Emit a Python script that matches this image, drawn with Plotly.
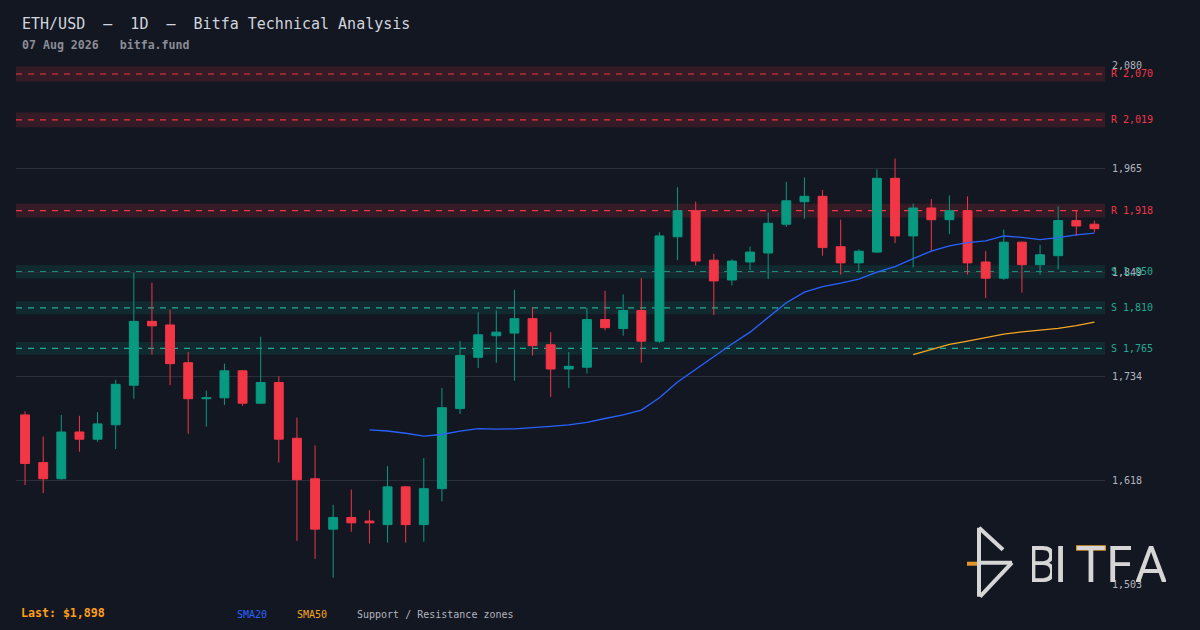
import plotly.graph_objects as go
import pandas as pd

# ETH/USD daily candles, oldest first, last bar on 07 Aug 2026
opens = [1691, 1638, 1620, 1672, 1664, 1680, 1724, 1795, 1791, 1749,
         1709, 1710, 1740, 1704, 1727, 1665, 1620, 1564, 1577, 1573,
         1569, 1611, 1569, 1609, 1698, 1755, 1779, 1782, 1798, 1769,
         1742, 1744, 1797, 1787, 1807, 1773, 1889, 1918, 1863, 1841,
         1861, 1871, 1903, 1928, 1934, 1878, 1860, 1872, 1954, 1890,
         1921, 1908, 1918, 1861, 1843, 1883, 1858, 1868, 1907, 1903]
highs = [1695, 1667, 1691, 1690, 1694, 1730, 1849, 1838, 1808, 1761,
         1718, 1748, 1741, 1778, 1734, 1688, 1657, 1591, 1608, 1585,
         1634, 1612, 1643, 1721, 1773, 1805, 1807, 1830, 1811, 1783,
         1761, 1810, 1829, 1825, 1843, 1894, 1944, 1928, 1870, 1864,
         1878, 1916, 1950, 1955, 1941, 1908, 1875, 1964, 1976, 1926,
         1931, 1935, 1934, 1873, 1897, 1884, 1880, 1923, 1919, 1907]
lows = [1613, 1604, 1619, 1650, 1661, 1653, 1709, 1758, 1724, 1670,
        1678, 1702, 1701, 1703, 1638, 1551, 1531, 1510, 1561, 1548,
        1549, 1549, 1550, 1595, 1692, 1743, 1749, 1729, 1757, 1711,
        1721, 1737, 1785, 1779, 1749, 1771, 1863, 1857, 1802, 1835,
        1852, 1842, 1900, 1909, 1868, 1847, 1849, 1871, 1882, 1855,
        1873, 1892, 1847, 1821, 1841, 1827, 1847, 1853, 1890, 1894]
closes = [1637, 1620, 1672, 1664, 1681, 1725, 1795, 1790, 1748, 1709,
          1710, 1740, 1704, 1727, 1664, 1619, 1564, 1577, 1571, 1571,
          1611, 1569, 1609, 1699, 1757, 1780, 1783, 1798, 1768, 1742,
          1745, 1797, 1788, 1807, 1773, 1890, 1918, 1862, 1840, 1862,
          1872, 1904, 1929, 1934, 1877, 1860, 1873, 1954, 1890, 1921,
          1908, 1918, 1860, 1843, 1883, 1858, 1869, 1907, 1901, 1898]

# moving averages as drawn (start once enough bars exist)
sma20 = [None] * 19 + [
    1674.4, 1673.1, 1670.6, 1667.4, 1669.2, 1673.0, 1675.7, 1675.1, 1675.5, 1676.5,
    1678.2, 1679.9, 1682.8, 1687.0, 1691.0, 1696.4, 1710.0, 1727.7, 1741.9, 1755.4,
    1769.9, 1783.0, 1799.7, 1815.7, 1827.5, 1833.5, 1837.5, 1842.0, 1849.8, 1855.9,
    1864.8, 1873.0, 1879.0, 1882.6, 1884.4, 1889.9, 1888.3, 1885.9, 1888.1, 1891.2,
    1893.0]
sma50 = [None] * 49 + [
    1758.0, 1763.4, 1769.4, 1773.1, 1776.7, 1780.8, 1783.4, 1784.9, 1787.2, 1790.3,
    1794.1]

# support / resistance levels
levels = [2070, 2019, 1918, 1850, 1810, 1765]
level_kind = ["R", "R", "R", "S", "S", "S"]

ytick_vals = [1503, 1618.4, 1733.8, 1849.2, 1964.6, 2080]
ytick_text = ["1,503", "1,618", "1,734", "1,849", "1,965", "2,080"]

last_price = 1898
dates = pd.date_range(end="2026-08-07", periods=len(closes), freq="D")

BG = "#131722"
GREEN = "#089981"
RED = "#f23645"
TEAL = "#22ab94"
BLUE = "#2962ff"
ORANGE = "#f5a623"
GRID = "#2a2e39"
MONO = "DejaVu Sans Mono"

# plot area in pixels (for placing the decorations)
L, R, T, B = 16, 1105, 65, 584.3


def px(x):
    return (x - L) / (R - L)


def py(y):
    return (B - y) / (B - T)


fig = go.Figure()

fig.add_trace(go.Candlestick(
    x=dates, open=opens, high=highs, low=lows, close=closes,
    increasing=dict(line=dict(color=GREEN, width=1), fillcolor=GREEN),
    decreasing=dict(line=dict(color=RED, width=1), fillcolor=RED),
    whiskerwidth=0, hoverinfo="skip",
))
fig.add_trace(go.Scatter(x=dates, y=sma20, mode="lines",
                         line=dict(color=BLUE, width=1.3), hoverinfo="skip"))
fig.add_trace(go.Scatter(x=dates, y=sma50, mode="lines",
                         line=dict(color=ORANGE, width=1.3), hoverinfo="skip"))

shapes = []
annotations = []

# zones + dashed level lines + right labels
for lvl, kind in zip(levels, level_kind):
    col = RED if kind == "R" else TEAL
    fill = "rgba(242,54,69,0.15)" if kind == "R" else "rgba(8,153,129,0.15)"
    shapes.append(dict(type="rect", xref="paper", yref="y", x0=0, x1=1,
                       y0=lvl * 0.996, y1=lvl * 1.004, fillcolor=fill,
                       line=dict(width=0), layer="below"))
    shapes.append(dict(type="line", xref="paper", yref="y", x0=0, x1=1,
                       y0=lvl, y1=lvl, line=dict(color=col, width=1.2, dash="6px,6px"),
                       layer="below"))
    annotations.append(dict(xref="paper", yref="y", x=px(1109), y=lvl,
                            xanchor="left", yanchor="middle", showarrow=False,
                            text=f"{kind} {lvl:,}", font=dict(family=MONO, size=10, color=col)))

# header
annotations.append(dict(xref="paper", yref="paper", x=px(20), y=py(24), xanchor="left",
                        yanchor="middle", showarrow=False,
                        text="ETH/USD  \u2013  1D  \u2013  Bitfa Technical Analysis",
                        font=dict(family=MONO, size=15, color="#d1d4dc")))
annotations.append(dict(xref="paper", yref="paper", x=px(20), y=py(45), xanchor="left",
                        yanchor="middle", showarrow=False,
                        text="<b>07 Aug 2026   bitfa.fund</b>",
                        font=dict(family=MONO, size=11.6, color="#8a8d96")))

# footer
annotations.append(dict(xref="paper", yref="paper", x=px(19), y=py(613), xanchor="left",
                        yanchor="middle", showarrow=False,
                        text=f"<b>Last: ${last_price:,}</b>",
                        font=dict(family=MONO, size=11.6, color="#ff9f1a")))
for txt, xp, col in [("SMA20", 235, BLUE), ("SMA50", 295, ORANGE),
                     ("Support / Resistance zones", 355, "#b2b5be")]:
    annotations.append(dict(xref="paper", yref="paper", x=px(xp), y=py(615), xanchor="left",
                            yanchor="middle", showarrow=False, text=txt,
                            font=dict(family=MONO, size=10, color=col)))

# BITFA watermark
LOGO = "#d6d6d6"
LOGO_ORANGE = "#e0962a"
for (x0, y0, x1, y1) in [(979, 528, 979, 597), (979, 528, 1003, 550),
                         (977, 563, 1012, 563), (1012, 563, 980, 597)]:
    shapes.append(dict(type="line", xref="paper", yref="paper",
                       x0=px(x0), y0=py(y0), x1=px(x1), y1=py(y1),
                       line=dict(color=LOGO, width=4)))
shapes.append(dict(type="line", xref="paper", yref="paper",
                   x0=px(967), y0=py(564), x1=px(977), y1=py(564),
                   line=dict(color=LOGO_ORANGE, width=4)))
for ch, xc, w in [("B", 1042, 20), ("I", 1060, 7), ("T", 1091, 28),
                  ("F", 1120, 22), ("A", 1151, 30)]:
    annotations.append(dict(xref="paper", yref="paper", x=px(xc), y=py(565),
                            xanchor="center", yanchor="middle", showarrow=False, text=ch,
                            width=w, borderpad=0,
                            font=dict(family="Roboto", size=50, color=LOGO)))
shapes.append(dict(type="rect", xref="paper", yref="paper",
                   x0=px(1076), x1=px(1106), y0=py(551), y1=py(545.5),
                   fillcolor=LOGO_ORANGE, line=dict(width=0)))

fig.update_layout(
    width=1200, height=630,
    paper_bgcolor=BG, plot_bgcolor=BG,
    margin=dict(l=L, r=1200 - R, t=T, b=630 - B),
    showlegend=False,
    shapes=shapes,
    annotations=annotations,
    xaxis=dict(range=[dates[0] - pd.Timedelta(hours=12), dates[-1] + pd.Timedelta(hours=14)],
               showgrid=False, showticklabels=False, zeroline=False,
               rangeslider=dict(visible=False)),
    yaxis=dict(side="right", range=[1503, 2080], tickvals=ytick_vals, ticktext=ytick_text,
               showgrid=True, gridcolor=GRID, gridwidth=1, zeroline=False,
               ticklabelstandoff=6,
               tickfont=dict(family=MONO, size=10, color="#b2b5be")),
)

fig.write_html("out.html", config={"displayModeBar": False},
               post_script="document.body.style.margin='0';")
